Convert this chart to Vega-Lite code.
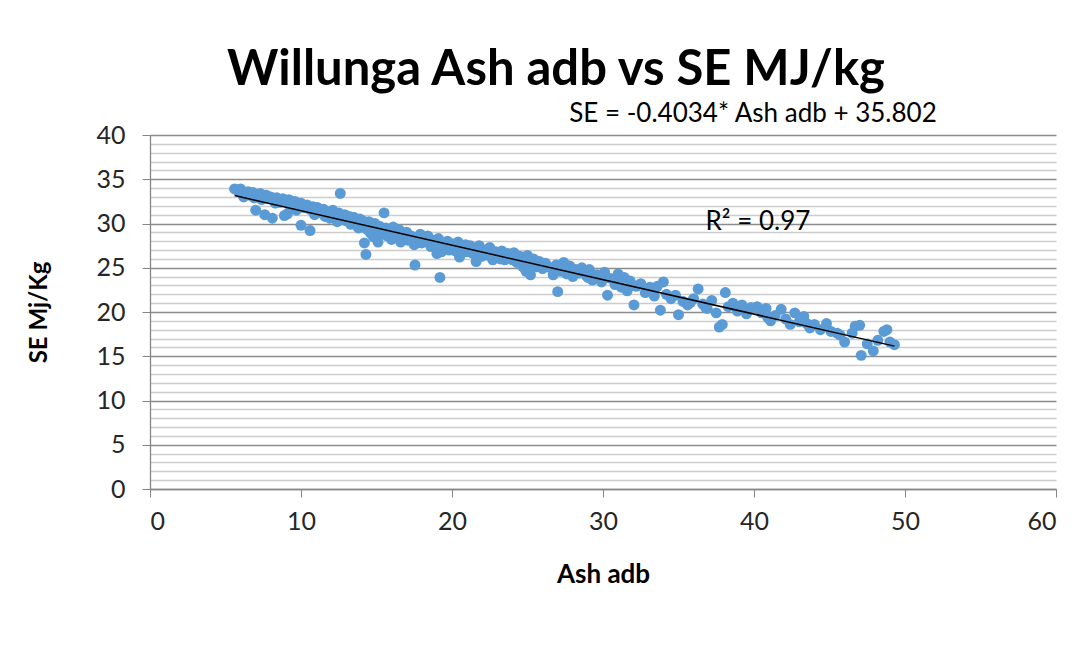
{
  "$schema": "https://vega.github.io/schema/vega-lite/v6.json",
  "width": 906,
  "height": 354,
  "autosize": {"type": "none"},
  "padding": {"left": 150, "top": 135, "right": 36, "bottom": 173},
  "background": "white",
  "config": {
    "view": {"stroke": null},
    "font": "Lato",
    "title": {"font": "Lato"}
  },
  "title": {
    "text": "Willunga Ash adb vs SE MJ/kg",
    "fontSize": 49,
    "fontWeight": "bold",
    "color": "#000000",
    "anchor": "middle",
    "dx": -47,
    "offset": 6
  },
  "datasets": {
    "pts": [
      {"a":5.6,"s":33.9},{"a":5.8,"s":33.8},{"a":5.9,"s":33.6},{"a":6.0,"s":33.9},{"a":6.1,"s":33.5},{"a":6.2,"s":33.0},{"a":6.3,"s":33.4},{"a":6.5,"s":33.6},{"a":6.6,"s":33.2},{"a":6.8,"s":33.5},{"a":6.9,"s":32.9},{"a":7.0,"s":33.3},{"a":7.0,"s":31.5},{"a":7.2,"s":33.1},{"a":7.3,"s":33.4},{"a":7.4,"s":32.7},{"a":7.5,"s":32.9},{"a":7.6,"s":31.0},{"a":7.7,"s":33.2},{"a":7.9,"s":32.8},{"a":8.0,"s":33.0},{"a":8.1,"s":30.6},{"a":8.2,"s":32.6},{"a":8.3,"s":32.3},{"a":8.4,"s":32.9},{"a":8.6,"s":32.4},{"a":8.8,"s":32.8},{"a":8.9,"s":30.9},{"a":9.0,"s":32.5},{"a":9.1,"s":31.1},{"a":9.2,"s":32.7},{"a":9.3,"s":31.9},{"a":9.4,"s":32.2},{"a":9.6,"s":32.5},{"a":9.7,"s":31.5},{"a":9.8,"s":32.0},{"a":10.0,"s":29.8},{"a":10.0,"s":32.3},{"a":10.2,"s":31.8},{"a":10.4,"s":32.1},{"a":10.6,"s":29.2},{"a":10.6,"s":31.6},{"a":10.8,"s":31.9},{"a":10.9,"s":31.0},{"a":11.0,"s":31.4},{"a":11.1,"s":31.8},{"a":11.3,"s":31.2},{"a":11.5,"s":31.6},{"a":11.6,"s":30.8},{"a":11.8,"s":31.3},{"a":11.9,"s":30.6},{"a":12.0,"s":31.0},{"a":12.1,"s":31.5},{"a":12.3,"s":30.7},{"a":12.4,"s":30.2},{"a":12.5,"s":31.2},{"a":12.6,"s":33.4},{"a":12.7,"s":30.5},{"a":12.9,"s":31.0},{"a":13.0,"s":30.3},{"a":13.2,"s":30.8},{"a":13.3,"s":29.9},{"a":13.4,"s":30.1},{"a":13.5,"s":30.7},{"a":13.7,"s":29.9},{"a":13.8,"s":29.5},{"a":13.9,"s":30.5},{"a":14.0,"s":29.6},{"a":14.1,"s":30.3},{"a":14.2,"s":27.8},{"a":14.3,"s":26.5},{"a":14.4,"s":29.3},{"a":14.4,"s":29.9},{"a":14.5,"s":30.2},{"a":14.6,"s":28.9},{"a":14.7,"s":29.8},{"a":14.8,"s":28.5},{"a":14.9,"s":30.0},{"a":15.0,"s":29.3},{"a":15.1,"s":27.9},{"a":15.2,"s":29.7},{"a":15.3,"s":28.8},{"a":15.4,"s":29.0},{"a":15.5,"s":31.2},{"a":15.6,"s":29.5},{"a":15.7,"s":28.6},{"a":15.9,"s":29.2},{"a":16.0,"s":28.2},{"a":16.1,"s":29.6},{"a":16.2,"s":28.6},{"a":16.3,"s":28.9},{"a":16.5,"s":29.3},{"a":16.6,"s":27.9},{"a":16.8,"s":28.7},{"a":17.0,"s":29.0},{"a":17.1,"s":28.1},{"a":17.2,"s":28.3},{"a":17.3,"s":28.6},{"a":17.5,"s":27.6},{"a":17.55,"s":25.3},{"a":17.7,"s":28.4},{"a":17.7,"s":27.8},{"a":17.9,"s":28.8},{"a":18.0,"s":27.8},{"a":18.1,"s":27.9},{"a":18.2,"s":28.3},{"a":18.4,"s":28.6},{"a":18.6,"s":27.4},{"a":18.8,"s":28.1},{"a":18.9,"s":27.7},{"a":19.0,"s":27.1},{"a":19.0,"s":26.6},{"a":19.1,"s":28.3},{"a":19.2,"s":23.9},{"a":19.3,"s":26.8},{"a":19.5,"s":27.6},{"a":19.7,"s":28.0},{"a":19.8,"s":27.0},{"a":19.9,"s":27.3},{"a":20.0,"s":27.7},{"a":20.2,"s":26.9},{"a":20.4,"s":27.9},{"a":20.5,"s":26.2},{"a":20.6,"s":27.0},{"a":20.7,"s":27.3},{"a":20.9,"s":27.6},{"a":21.0,"s":26.8},{"a":21.2,"s":27.5},{"a":21.4,"s":26.6},{"a":21.5,"s":26.8},{"a":21.6,"s":27.2},{"a":21.6,"s":25.7},{"a":21.8,"s":27.5},{"a":22.0,"s":26.3},{"a":22.1,"s":27.0},{"a":22.3,"s":26.7},{"a":22.4,"s":26.4},{"a":22.5,"s":27.3},{"a":22.7,"s":26.1},{"a":22.7,"s":25.9},{"a":22.9,"s":26.8},{"a":23.1,"s":26.4},{"a":23.2,"s":26.0},{"a":23.3,"s":26.9},{"a":23.5,"s":25.9},{"a":23.7,"s":26.6},{"a":23.9,"s":26.2},{"a":24.0,"s":25.9},{"a":24.1,"s":26.7},{"a":24.3,"s":25.6},{"a":24.5,"s":26.3},{"a":24.7,"s":25.9},{"a":24.7,"s":25.1},{"a":24.8,"s":25.6},{"a":24.9,"s":24.6},{"a":25.0,"s":26.4},{"a":25.2,"s":25.4},{"a":25.2,"s":24.2},{"a":25.4,"s":26.0},{"a":25.6,"s":25.1},{"a":25.8,"s":25.7},{"a":25.9,"s":25.1},{"a":26.0,"s":24.9},{"a":26.2,"s":25.5},{"a":26.5,"s":25.0},{"a":26.7,"s":24.2},{"a":26.8,"s":24.7},{"a":26.9,"s":25.3},{"a":27.0,"s":22.3},{"a":27.2,"s":24.6},{"a":27.4,"s":25.6},{"a":27.6,"s":24.3},{"a":27.8,"s":25.2},{"a":27.9,"s":24.4},{"a":28.0,"s":24.0},{"a":28.2,"s":24.8},{"a":28.4,"s":24.4},{"a":28.6,"s":25.0},{"a":28.9,"s":24.1},{"a":29.0,"s":23.9},{"a":29.1,"s":24.8},{"a":29.3,"s":23.6},{"a":29.6,"s":24.2},{"a":29.8,"s":23.9},{"a":29.9,"s":23.4},{"a":30.1,"s":24.5},{"a":30.3,"s":21.9},{"a":30.5,"s":23.8},{"a":30.8,"s":23.1},{"a":30.9,"s":23.5},{"a":31.0,"s":24.3},{"a":31.2,"s":22.8},{"a":31.4,"s":23.9},{"a":31.6,"s":22.4},{"a":31.8,"s":23.5},{"a":32.0,"s":23.0},{"a":32.05,"s":20.8},{"a":32.2,"s":22.9},{"a":32.5,"s":23.2},{"a":32.8,"s":22.2},{"a":33.1,"s":22.8},{"a":33.2,"s":22.3},{"a":33.4,"s":21.8},{"a":33.6,"s":22.9},{"a":33.8,"s":20.2},{"a":34.0,"s":23.4},{"a":34.2,"s":22.0},{"a":34.5,"s":21.5},{"a":34.8,"s":21.9},{"a":35.0,"s":19.7},{"a":35.3,"s":21.2},{"a":35.6,"s":20.8},{"a":35.8,"s":21.1},{"a":36.0,"s":21.5},{"a":36.3,"s":22.6},{"a":36.6,"s":20.9},{"a":36.8,"s":20.5},{"a":36.9,"s":20.4},{"a":37.2,"s":21.3},{"a":37.5,"s":19.9},{"a":37.7,"s":18.3},{"a":37.9,"s":18.6},{"a":38.1,"s":22.2},{"a":38.3,"s":20.6},{"a":38.6,"s":21.0},{"a":38.9,"s":20.1},{"a":39.0,"s":20.4},{"a":39.2,"s":20.8},{"a":39.5,"s":19.8},{"a":39.8,"s":20.5},{"a":40.2,"s":20.6},{"a":40.5,"s":19.9},{"a":40.8,"s":20.4},{"a":40.9,"s":19.4},{"a":41.1,"s":19.0},{"a":41.4,"s":19.6},{"a":41.8,"s":20.3},{"a":42.1,"s":19.2},{"a":42.4,"s":18.6},{"a":42.7,"s":19.9},{"a":43.0,"s":18.9},{"a":43.3,"s":19.5},{"a":43.5,"s":18.7},{"a":43.7,"s":18.2},{"a":44.0,"s":18.6},{"a":44.4,"s":18.0},{"a":44.8,"s":18.7},{"a":45.1,"s":17.8},{"a":45.5,"s":17.6},{"a":45.7,"s":17.4},{"a":46.0,"s":16.6},{"a":46.5,"s":17.6},{"a":46.7,"s":18.4},{"a":47.0,"s":18.5},{"a":47.1,"s":15.1},{"a":47.5,"s":16.4},{"a":47.9,"s":15.6},{"a":48.2,"s":16.8},{"a":48.6,"s":17.8},{"a":48.8,"s":18.0},{"a":49.0,"s":16.6},{"a":49.3,"s":16.3}
    ],
    "notes": [
      {"a": 39.93, "s": 42.4, "t": "SE = -0.4034* Ash adb + 35.802"},
      {"a": 40.26, "s": 30.2, "t": "R² = 0.97"}
    ]
  },
  "layer": [
    {
      "data": {"name": "pts"},
      "mark": {"type": "point", "filled": true, "shape": "circle", "size": 120, "opacity": 1, "color": "#5B9BD5"},
      "encoding": {
        "x": {
          "field": "a", "type": "quantitative",
          "scale": {"domain": [0, 60], "nice": false},
          "axis": {
            "values": [0, 10, 20, 30, 40, 50, 60],
            "format": "d",
            "grid": false,
            "labelOverlap": false,
            "title": "Ash adb",
            "titleFontSize": 26,
            "titleFontWeight": "bold",
            "titleColor": "#000000",
            "titlePadding": 27,
            "labelFontSize": 25,
            "labelColor": "#262626",
            "labelPadding": 12,
            "tickSize": 8,
            "tickColor": "#868686",
            "domainColor": "#868686",
            "domainWidth": 1.3
          }
        },
        "y": {
          "field": "s", "type": "quantitative",
          "scale": {"domain": [0, 40], "nice": false},
          "axis": {
            "values": [0,1,2,3,4,5,6,7,8,9,10,11,12,13,14,15,16,17,18,19,20,21,22,23,24,25,26,27,28,29,30,31,32,33,34,35,36,37,38,39,40],
            "tickCount": 100,
            "format": "d",
            "labelExpr": "datum.value % 5 === 0 ? datum.label : ''",
            "labelOverlap": false,
            "labelBound": false,
            "grid": true,
            "gridColor": {"condition": {"test": "datum.value % 5 === 0", "value": "#8c8c8c"}, "value": "#cccccc"},
            "gridWidth": 1.3,
            "tickOpacity": {"condition": {"test": "datum.value % 5 === 0", "value": 1}, "value": 0},
            "title": "SE Mj/Kg",
            "titleFontSize": 24,
            "titleFontWeight": "bold",
            "titleColor": "#000000",
            "titlePadding": 44,
            "labelFontSize": 25,
            "labelColor": "#262626",
            "labelPadding": 17,
            "tickSize": 8,
            "tickColor": "#868686",
            "domainColor": "#868686",
            "domainWidth": 1.3
          }
        }
      }
    },
    {
      "data": {"name": "pts"},
      "transform": [{"regression": "s", "on": "a", "method": "linear"}],
      "mark": {"type": "line", "color": "#000000", "strokeWidth": 1.5},
      "encoding": {
        "x": {"field": "a", "type": "quantitative"},
        "y": {"field": "s", "type": "quantitative"}
      }
    },
    {
      "data": {"name": "notes"},
      "mark": {"type": "text", "fontSize": 26, "color": "#000000", "align": "center", "baseline": "middle"},
      "encoding": {
        "x": {"field": "a", "type": "quantitative"},
        "y": {"field": "s", "type": "quantitative"},
        "text": {"field": "t"}
      }
    }
  ]
}
